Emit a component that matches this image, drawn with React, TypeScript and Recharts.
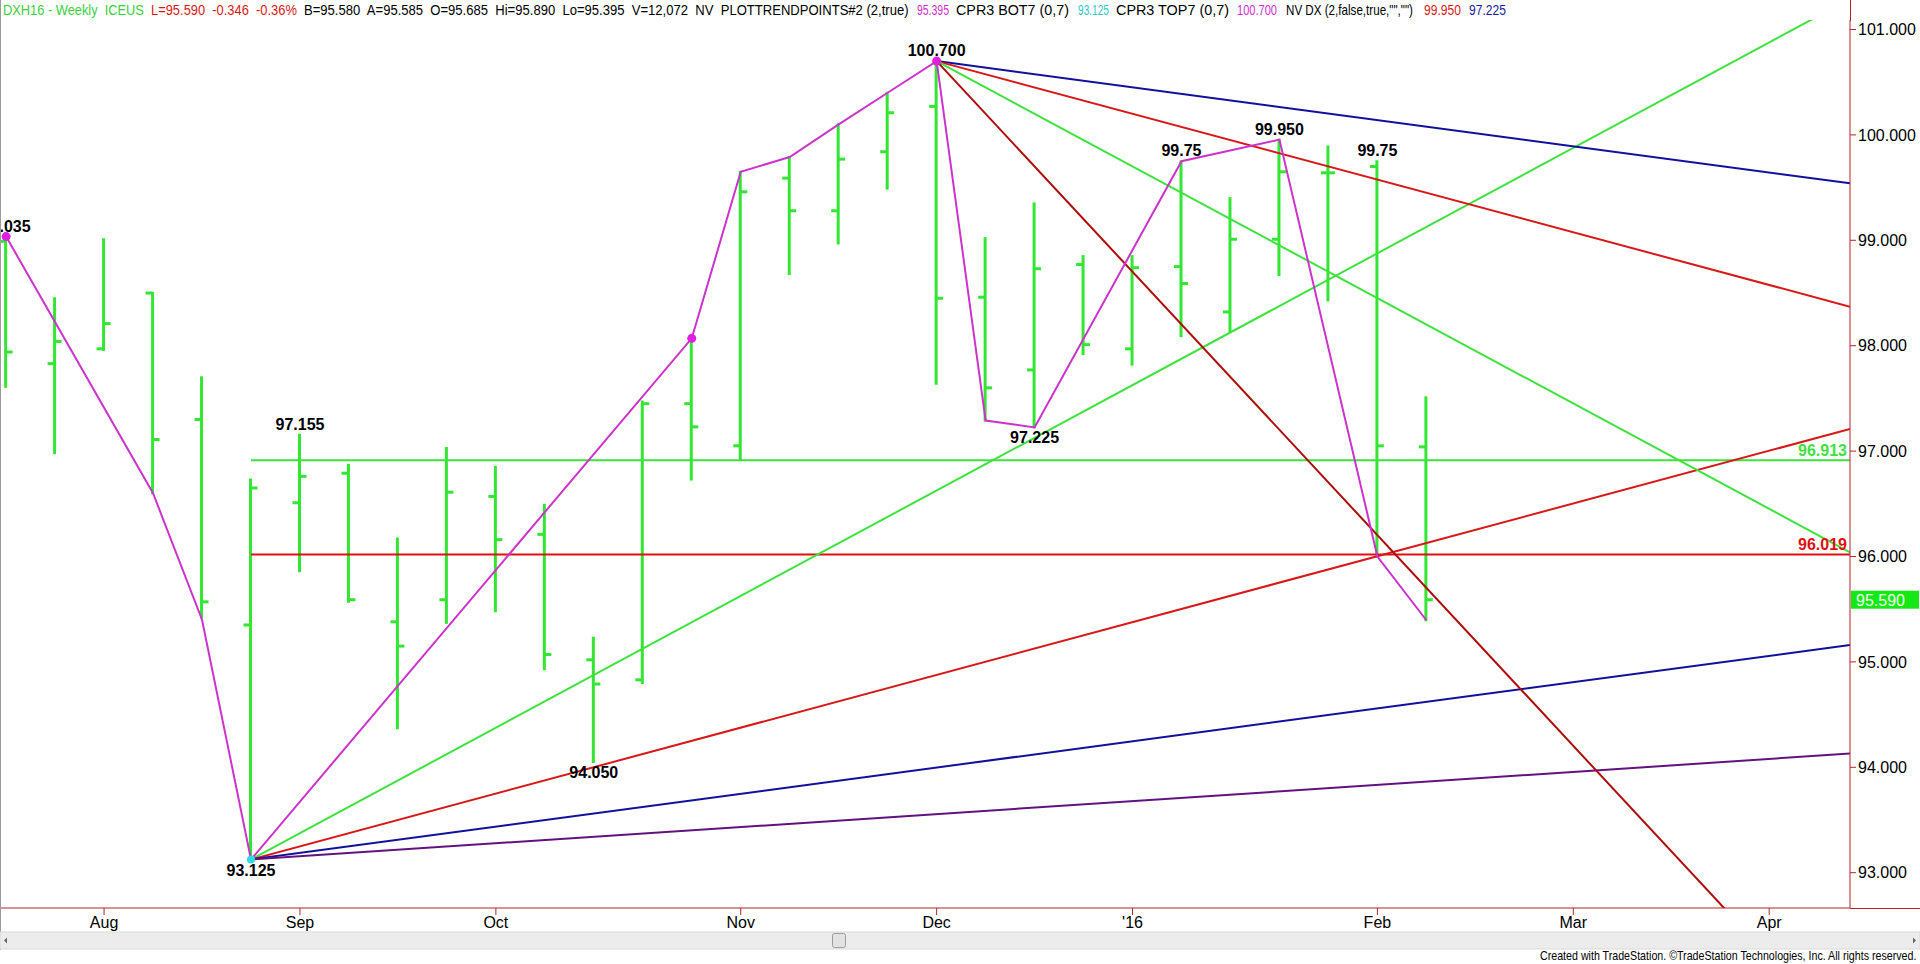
import { useLayoutEffect, useRef, useState } from "react"
import { ComposedChart, Bar, Line, Scatter, XAxis, YAxis, ReferenceLine } from "recharts"

// weekly bars, Jul 24 2015 .. Feb 12 2016 (index = week number)
const weekIdx = [0, 1, 2, 3, 4, 5, 6, 7, 8, 9, 10, 11, 12, 13, 14, 15, 16, 17, 18, 19, 20, 21, 22, 23, 24, 25, 26, 27, 28, 29]
const opens = [98.99, 97.83, 97.97, 98.5, 97.3, 95.35, 96.51, 96.79, 95.38, 95.59, 96.57, 96.21, 95.02, 94.83, 97.45, 97.05, 99.59, 99.28, 99.84, 100.27, 98.46, 97.77, 98.77, 97.97, 98.75, 98.32, 99.01, 99.64, 99.7, 97.04]
const highs = [99.035, 98.45, 99.01, 98.5, 97.7, 96.73, 97.155, 96.87, 96.17, 97.03, 96.85, 96.49, 95.23, 97.47, 98.07, 99.65, 99.79, 100.1, 100.4, 100.7, 99.02, 99.35, 98.85, 98.85, 99.75, 99.4, 99.955, 99.89, 99.75, 97.51]
const lows = [97.61, 96.98, 97.96, 96.6, 95.42, 93.125, 95.86, 95.57, 94.37, 95.37, 95.48, 94.93, 94.05, 94.8, 96.73, 96.92, 98.68, 98.97, 99.49, 97.64, 97.29, 97.225, 97.92, 97.82, 98.09, 98.13, 98.67, 98.43, 96.0, 95.395]
const closes = [97.94, 98.04, 98.21, 97.11, 95.57, 96.65, 96.76, 95.59, 95.15, 96.61, 96.16, 95.07, 94.79, 97.45, 97.23, 99.46, 99.28, 99.77, 100.21, 98.45, 97.6, 98.73, 98.01, 98.74, 98.59, 99.01, 99.65, 99.64, 97.05, 95.59]

const monthTicks = [2, 6, 10, 15, 19, 23, 28, 32, 36]
const monthLabels = ["Aug", "Sep", "Oct", "Nov", "Dec", "'16", "Feb", "Mar", "Apr"]
const priceTicks = [93, 94, 95, 96, 97, 98, 99, 100, 101]

// zigzag swing line
const swingIdx = [0, 3, 4, 5, 14, 15, 16, 17, 18, 19, 20, 21, 24, 26, 28, 29]
const swingVal = [99.035, 96.6, 95.4, 93.125, 98.07, 99.65, 99.79, 100.1, 100.4, 100.7, 97.29, 97.225, 99.75, 99.955, 96.0, 95.395]

// swing point labels
const labelIdx = [0, 6, 5, 12, 19, 21, 24, 26, 28]
const labelVal = [99.035, 97.155, 93.125, 94.05, 100.7, 97.225, 99.75, 99.955, 99.75]
const labelText = ["99.035", "97.155", "93.125", "94.050", "100.700", "97.225", "99.75", "99.950", "99.75"]
const labelBelow = [false, false, true, true, false, true, false, false, false]

// pivot dots
const dotIdx = [0, 14, 19]
const dotVal = [99.035, 98.07, 100.7]

// fans: start pivot and value reached at the right edge
const edgeIdx = 37.65
const lowIdx = 5
const lowVal = 93.125
const highIdx = 19
const highVal = 100.7
const fanUpEnds = [101.29, 97.21, 95.16, 94.13]
const fanUpColors = ["#3ee23e", "#d81818", "#10109a", "#62127e"]
const fanDownEnds = [99.54, 98.37, 96.04, 91.38]
const fanDownColors = ["#10109a", "#d81818", "#3ee23e", "#b00a0a"]

// horizontal levels
const levels = [96.913, 96.019]
const levelColors = ["#3ee23e", "#e01010"]
const lastPrice = 95.59

const BAR = "#33e633"
const AXIS = "#b3222e"
const FONT = "'Liberation Sans', Arial, sans-serif"

const bars = weekIdx.map((i, k) => ({ i, hl: [lows[k], highs[k]], o: opens[k], h: highs[k], l: lows[k], c: closes[k] }))
const swing = swingIdx.map((i, k) => ({ i, v: swingVal[k] }))
const pivLabels = labelIdx.map((i, k) => ({ i, v: labelVal[k], t: labelText[k], below: labelBelow[k] }))
const pivDots = dotIdx.map((i, k) => ({ i, v: dotVal[k] }))
const lowDot = [{ i: lowIdx, v: lowVal }]

const OhlcShape = (props: any) => {
  const { x, y, width, height, payload } = props
  const top = Math.min(y, y + height)
  const h = Math.abs(height)
  const cx = x + width / 2
  const span = payload.h - payload.l || 1
  const yOf = (v: number) => top + ((payload.h - v) / span) * h
  return (
    <g>
      <line x1={cx} x2={cx} y1={top - 1} y2={top + h + 1} stroke={BAR} strokeWidth={3} />
      <line x1={cx - 7} x2={cx} y1={yOf(payload.o)} y2={yOf(payload.o)} stroke={BAR} strokeWidth={3} />
      <line x1={cx} x2={cx + 7} y1={yOf(payload.c)} y2={yOf(payload.c)} stroke={BAR} strokeWidth={3} />
    </g>
  )
}

const PivotLabel = (props: any) => {
  const { cx, cy, payload } = props
  return (
    <text x={cx} y={payload.below ? cy + 16 : cy - 5} textAnchor="middle" fontSize={16} fontWeight="bold" fill="#000" fontFamily={FONT}>
      {payload.t}
    </text>
  )
}

const levelLabel = (color: string) => (props: any) => {
  const { x, y, index, value } = props
  if (index !== 1) return null
  return (
    <text x={x - 3} y={y - 4} textAnchor="end" fontSize={16} fontWeight="bold" fill={color} fontFamily={FONT}>
      {Number(value).toFixed(3)}
    </text>
  )
}

const PriceBox = (props: any) => {
  const { viewBox } = props
  const x = viewBox.x + viewBox.width + 1
  const y = viewBox.y
  return (
    <g>
      <rect x={x} y={y - 9} width={68} height={18} fill="#16e816" />
      <text x={x + 5} y={y + 6} fontSize={16} fill="#eaffea" fontFamily={FONT}>
        {lastPrice.toFixed(3)}
      </text>
    </g>
  )
}

// condensed text: squeezes a string horizontally into a given width
function FitText({ x, y, w, size, fill, children }: { x: number; y: number; w: number; size: number; fill: string; children: string }) {
  const ref = useRef<SVGTextElement>(null)
  const [sx, setSx] = useState(1)
  useLayoutEffect(() => {
    if (ref.current) {
      const n = ref.current.getComputedTextLength()
      if (n > 0) setSx(w / n)
    }
  }, [w, children])
  return (
    <text ref={ref} transform={`translate(${x},${y}) scale(${sx},1)`} fontSize={size} fontFamily={FONT} fill={fill} style={{ whiteSpace: "pre" }}>
      {children}
    </text>
  )
}

// status line segments: text, colour, left, width
const header: [string, string, number, number][] = [
  ["DXH16 - Weekly  ICEUS", "#3ccf3c", 3, 141],
  ["L=95.590  -0.346  -0.36%", "#d81818", 151, 146],
  ["B=95.580  A=95.585  O=95.685  Hi=95.890  Lo=95.395  V=12,072  NV  PLOTTRENDPOINTS#2 (2,true)", "#000", 304, 605],
  ["95.395", "#d030d0", 917, 32],
  ["CPR3 BOT7 (0,7)", "#000", 956, 113],
  ["93.125", "#30c8c8", 1078, 31],
  ["CPR3 TOP7 (0,7)", "#000", 1116, 113],
  ["100.700", "#d030d0", 1237, 40],
  ['NV DX (2,false,true,"","")', "#000", 1286, 127],
  ["99.950", "#d81818", 1424, 37],
  ["97.225", "#1a1aa0", 1469, 37],
]

export default function App() {
  return (
    <div style={{ position: "absolute", left: 0, top: 0, width: 1920, height: 964, background: "#fff", fontFamily: FONT, overflow: "hidden" }}>
      <ComposedChart width={1920} height={964} data={bars} margin={{ top: 20, right: 0, left: 0, bottom: 0 }}>
        <XAxis
          dataKey="i"
          type="number"
          domain={[-0.125, edgeIdx]}
          allowDataOverflow
          ticks={monthTicks}
          tickFormatter={(v) => monthLabels[monthTicks.indexOf(v)] ?? ""}
          height={56}
          stroke={AXIS}
          tickSize={7}
          tick={{ fontSize: 16, fill: "#000", fontFamily: FONT }}
        />
        <YAxis
          orientation="right"
          type="number"
          domain={[92.665, 101.09]}
          allowDataOverflow
          ticks={priceTicks}
          tickFormatter={(v) => v.toFixed(3)}
          width={70}
          stroke={AXIS}
          tickSize={6}
          tick={{ fontSize: 16, fill: "#000", fontFamily: FONT }}
        />
        <Bar dataKey="hl" barSize={10} shape={<OhlcShape />} isAnimationActive={false} />
        {levels.map((lv, k) => (
          <Line
            key={"lv" + k}
            data={[{ i: lowIdx, v: lv }, { i: edgeIdx, v: lv }]}
            dataKey="v"
            stroke={levelColors[k]}
            strokeWidth={2}
            dot={false}
            activeDot={false}
            label={levelLabel(levelColors[k])}
            isAnimationActive={false}
          />
        ))}
        {fanUpEnds.map((end, k) => (
          <Line
            key={"up" + k}
            data={[{ i: lowIdx, v: lowVal }, { i: edgeIdx, v: end }]}
            dataKey="v"
            stroke={fanUpColors[k]}
            strokeWidth={2}
            dot={false}
            activeDot={false}
            isAnimationActive={false}
          />
        ))}
        {fanDownEnds.map((end, k) => (
          <Line
            key={"dn" + k}
            data={[{ i: highIdx, v: highVal }, { i: edgeIdx, v: end }]}
            dataKey="v"
            stroke={fanDownColors[k]}
            strokeWidth={2}
            dot={false}
            activeDot={false}
            isAnimationActive={false}
          />
        ))}
        <Line data={swing} dataKey="v" stroke="#cc33cc" strokeWidth={2} dot={false} activeDot={false} isAnimationActive={false} />
        <Scatter data={pivDots} dataKey="v" fill="#e020e0" shape={(p: any) => <circle cx={p.cx} cy={p.cy} r={4.5} fill="#e020e0" />} isAnimationActive={false} />
        <Scatter data={lowDot} dataKey="v" fill="#30d8e8" shape={(p: any) => <circle cx={p.cx} cy={p.cy} r={4} fill="#30d8e8" />} isAnimationActive={false} />
        <Scatter data={pivLabels} dataKey="v" shape={<PivotLabel />} isAnimationActive={false} />
        <ReferenceLine y={lastPrice} stroke="none" label={<PriceBox />} />
      </ComposedChart>

      {/* frame pieces outside the plot */}
      <svg width={1920} height={964} style={{ position: "absolute", left: 0, top: 0, pointerEvents: "none" }}>
        <line x1={1850.5} x2={1850.5} y1={0} y2={21} stroke={AXIS} strokeWidth={1} />
        <line x1={1850} x2={1920} y1={908.5} y2={908.5} stroke={AXIS} strokeWidth={1} />
        <line x1={0.5} x2={0.5} y1={0} y2={950} stroke="#9a9a9a" strokeWidth={1} />
        {header.map(([t, c, x, w], k) => (
          <FitText key={k} x={x} y={15} w={w} size={14} fill={c}>
            {t}
          </FitText>
        ))}
        <rect x={0} y={932} width={1920} height={17} fill="#ececec" stroke="#dadada" />
        <rect x={832.5} y={933.5} width={13} height={14} rx={2} fill="#e2e2e2" stroke="#9c9c9c" />
        <path d="M 4 940.5 L 7 937.5 L 7 943.5 Z" fill="#666" />
        <path d="M 1916 940.5 L 1913 937.5 L 1913 943.5 Z" fill="#666" />
        <FitText x={1540} y={960} w={377} size={13} fill="#000">
          Created with TradeStation. ©TradeStation Technologies, Inc. All rights reserved.
        </FitText>
      </svg>
    </div>
  )
}
